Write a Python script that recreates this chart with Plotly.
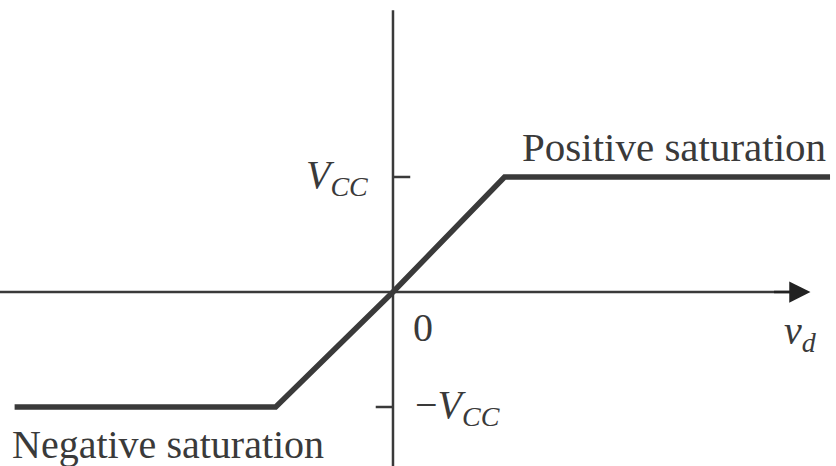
import plotly.graph_objects as go

# Transfer characteristic of an op-amp (normalised units: VCC = 1)
vd = [-3.29, -1.02, 0.0, 0.97, 3.8]
vo = [-1.0, -1.0, 0.0, 1.0, 1.0]
tick_values = [1.0, -1.0]
tick_labels = ["<i>V</i><sub><i>CC</i></sub>", "\u2212<i>V</i><sub><i>CC</i></sub>"]

col = "#3a3a3a"
font = "Liberation Serif"

fig = go.Figure()
fig.add_trace(go.Scatter(x=vd, y=vo, mode="lines",
                         line=dict(color=col, width=5.5), hoverinfo="skip",
                         showlegend=False))

# vertical axis
fig.add_shape(type="line", x0=0, x1=0, y0=2.45, y1=-1.6,
              line=dict(color=col, width=2.5), layer="below")
# horizontal axis with arrow
fig.add_shape(type="line", x0=-3.45, x1=3.55, y0=0, y1=0,
              line=dict(color=col, width=2.5), layer="below")
fig.add_annotation(x=3.63, y=0, ax=3.3, ay=0, xref="x", yref="y",
                   axref="x", ayref="y", showarrow=True, arrowhead=2,
                   arrowsize=1.7, arrowwidth=2.5, arrowcolor="#222222", text="")

# ticks
fig.add_shape(type="line", x0=0, x1=0.15, y0=tick_values[0], y1=tick_values[0],
              line=dict(color=col, width=2.5))
fig.add_shape(type="line", x0=-0.15, x1=0, y0=tick_values[1], y1=tick_values[1],
              line=dict(color=col, width=2.5))

tf = dict(family=font, size=40, color=col)
fig.add_annotation(x=-0.2, y=tick_values[0], text=tick_labels[0], showarrow=False,
                   xanchor="right", yanchor="middle", font=tf)
fig.add_annotation(x=0.17, y=tick_values[1], text=tick_labels[1], showarrow=False,
                   xanchor="left", yanchor="middle", font=tf)
fig.add_annotation(x=0.16, y=-0.31, text="0", showarrow=False,
                   xanchor="left", yanchor="middle", font=tf)
fig.add_annotation(x=3.38, y=-0.36, text="<i>v</i><sub><i>d</i></sub>", showarrow=False,
                   xanchor="left", yanchor="middle", font=tf)
fig.add_annotation(x=1.1, y=1.26, text="Positive saturation", showarrow=False,
                   xanchor="left", yanchor="middle", font=dict(family=font, size=41, color=col))
fig.add_annotation(x=-3.33, y=-1.33, text="Negative saturation", showarrow=False,
                   xanchor="left", yanchor="middle", font=tf)

fig.update_layout(
    width=836, height=466,
    margin=dict(l=0, r=0, t=0, b=0),
    paper_bgcolor="white", plot_bgcolor="white",
    font=dict(family=font, size=40, color=col),
    xaxis=dict(range=[-3.417, 3.852], visible=False, fixedrange=True),
    yaxis=dict(range=[-1.513, 2.539], visible=False, fixedrange=True),
)

fig.write_html("out.html", config={"displayModeBar": False},
               post_script="document.body.style.margin='0';")
